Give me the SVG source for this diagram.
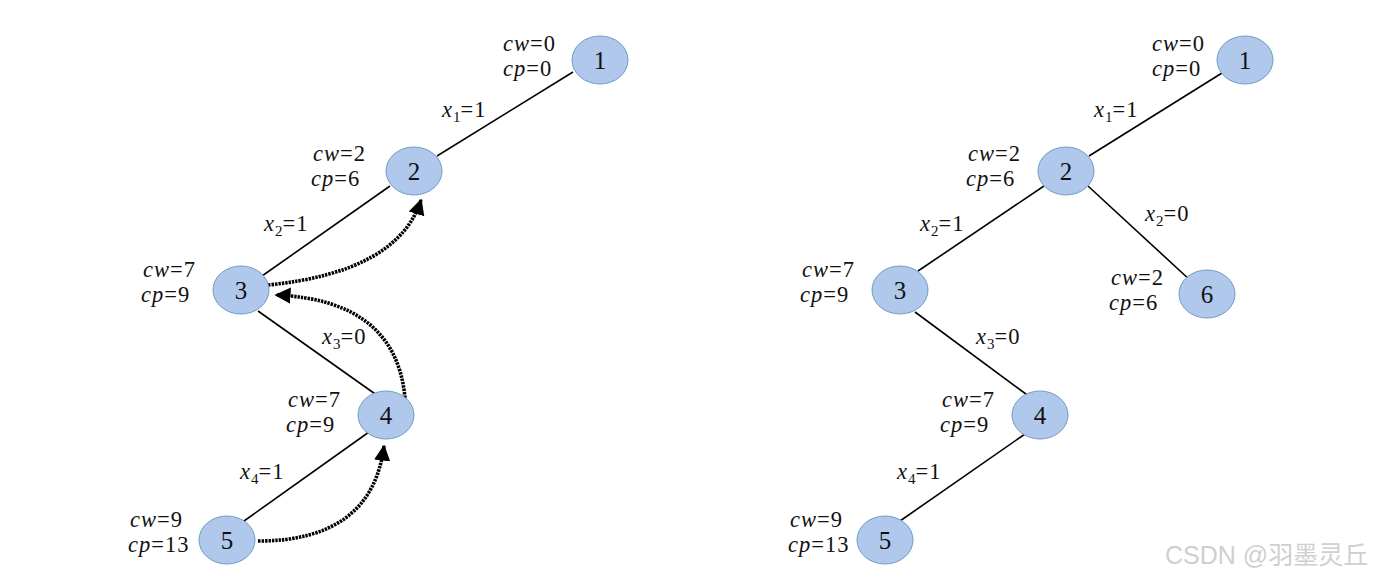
<svg xmlns="http://www.w3.org/2000/svg" width="1377" height="580" viewBox="0 0 1377 580">
<style>
.n{fill:#b0c8ec;stroke:#6f9dc0;stroke-width:1}
.t{font-family:"Liberation Serif",serif;font-size:22.5px;letter-spacing:1px;fill:#111}
.num{font-family:"Liberation Serif",serif;font-size:25px;fill:#111;text-anchor:middle}
.i{font-style:italic}
.s{font-size:15px;letter-spacing:0}
.e{stroke:#000;stroke-width:1.6;fill:none}
.d{stroke:#000;stroke-width:3.6;fill:none;stroke-dasharray:2.4 1}
.wm{font-family:"Liberation Sans","Noto Sans CJK SC",sans-serif;font-size:25px;fill:#cfcfcf}
</style>
<defs>
<marker id="ah" viewBox="0 0 10 10" refX="9" refY="5" markerWidth="4.5" markerHeight="4.5" orient="auto" markerUnits="strokeWidth">
<path d="M0,0 L10,5 L0,10 z" fill="#000"/>
</marker>
</defs>
<rect width="1377" height="580" fill="#fff"/>
<g id="connectors">
<line class="e" x1="573" y1="72" x2="437" y2="156"/>
<line class="e" x1="390" y1="186" x2="262" y2="276"/>
<line class="e" x1="258" y1="311" x2="378" y2="396"/>
<line class="e" x1="369" y1="432" x2="244" y2="521"/>
<path class="d" d="M268,285 Q398,272 421,200" marker-end="url(#ah)"/>
<path class="d" d="M405,398 Q396,300 276,295" marker-end="url(#ah)"/>
<path class="d" d="M258,541 Q372,541 384,446" marker-end="url(#ah)"/>
<line class="e" x1="1222" y1="73" x2="1089" y2="156"/>
<line class="e" x1="1044" y1="186" x2="918" y2="271"/>
<line class="e" x1="1088" y1="186" x2="1191" y2="281"/>
<line class="e" x1="915" y1="312" x2="1030" y2="397"/>
<line class="e" x1="1025" y1="434" x2="900" y2="521"/>
</g>
<g id="edge-labels" class="t">
<text x="442" y="117"><tspan class="i">x</tspan><tspan class="s" dy="5">1</tspan><tspan dy="-5">=1</tspan></text>
<text x="264" y="231"><tspan class="i">x</tspan><tspan class="s" dy="5">2</tspan><tspan dy="-5">=1</tspan></text>
<text x="322" y="344"><tspan class="i">x</tspan><tspan class="s" dy="5">3</tspan><tspan dy="-5">=0</tspan></text>
<text x="240" y="479"><tspan class="i">x</tspan><tspan class="s" dy="5">4</tspan><tspan dy="-5">=1</tspan></text>
<text x="1094" y="117"><tspan class="i">x</tspan><tspan class="s" dy="5">1</tspan><tspan dy="-5">=1</tspan></text>
<text x="920" y="231"><tspan class="i">x</tspan><tspan class="s" dy="5">2</tspan><tspan dy="-5">=1</tspan></text>
<text x="1145" y="221"><tspan class="i">x</tspan><tspan class="s" dy="5">2</tspan><tspan dy="-5">=0</tspan></text>
<text x="976" y="344"><tspan class="i">x</tspan><tspan class="s" dy="5">3</tspan><tspan dy="-5">=0</tspan></text>
<text x="897" y="479"><tspan class="i">x</tspan><tspan class="s" dy="5">4</tspan><tspan dy="-5">=1</tspan></text>
</g>
<g id="L1"><ellipse class="n" cx="600" cy="60" rx="28" ry="24"/><text class="num" x="600" y="69">1</text>
<text class="t" x="503" y="51"><tspan class="i">cw</tspan>=0</text><text class="t" x="503" y="76"><tspan class="i">cp</tspan>=0</text></g>
<g id="L2"><ellipse class="n" cx="414" cy="171" rx="28" ry="24"/><text class="num" x="414" y="180">2</text>
<text class="t" x="313" y="161"><tspan class="i">cw</tspan>=2</text><text class="t" x="311" y="186"><tspan class="i">cp</tspan>=6</text></g>
<g id="L3"><ellipse class="n" cx="241" cy="290" rx="28" ry="24"/><text class="num" x="241" y="299">3</text>
<text class="t" x="143" y="277"><tspan class="i">cw</tspan>=7</text><text class="t" x="141" y="302"><tspan class="i">cp</tspan>=9</text></g>
<g id="L4"><ellipse class="n" cx="386" cy="415" rx="28" ry="24"/><text class="num" x="386" y="424">4</text>
<text class="t" x="288" y="407"><tspan class="i">cw</tspan>=7</text><text class="t" x="286" y="432"><tspan class="i">cp</tspan>=9</text></g>
<g id="L5"><ellipse class="n" cx="227" cy="540" rx="28" ry="24"/><text class="num" x="227" y="549">5</text>
<text class="t" x="130" y="527"><tspan class="i">cw</tspan>=9</text><text class="t" x="128" y="552"><tspan class="i">cp</tspan>=13</text></g>
<g id="R1"><ellipse class="n" cx="1245" cy="60" rx="28" ry="24"/><text class="num" x="1245" y="69">1</text>
<text class="t" x="1152" y="51"><tspan class="i">cw</tspan>=0</text><text class="t" x="1152" y="76"><tspan class="i">cp</tspan>=0</text></g>
<g id="R2"><ellipse class="n" cx="1066" cy="171" rx="28" ry="24"/><text class="num" x="1066" y="180">2</text>
<text class="t" x="968" y="161"><tspan class="i">cw</tspan>=2</text><text class="t" x="966" y="186"><tspan class="i">cp</tspan>=6</text></g>
<g id="R3"><ellipse class="n" cx="900" cy="290" rx="28" ry="24"/><text class="num" x="900" y="299">3</text>
<text class="t" x="802" y="277"><tspan class="i">cw</tspan>=7</text><text class="t" x="800" y="302"><tspan class="i">cp</tspan>=9</text></g>
<g id="R6"><ellipse class="n" cx="1207" cy="294" rx="28" ry="24"/><text class="num" x="1207" y="303">6</text>
<text class="t" x="1111" y="285"><tspan class="i">cw</tspan>=2</text><text class="t" x="1109" y="310"><tspan class="i">cp</tspan>=6</text></g>
<g id="R4"><ellipse class="n" cx="1040" cy="415" rx="28" ry="24"/><text class="num" x="1040" y="424">4</text>
<text class="t" x="942" y="407"><tspan class="i">cw</tspan>=7</text><text class="t" x="940" y="432"><tspan class="i">cp</tspan>=9</text></g>
<g id="R5"><ellipse class="n" cx="885" cy="540" rx="28" ry="24"/><text class="num" x="885" y="549">5</text>
<text class="t" x="790" y="527"><tspan class="i">cw</tspan>=9</text><text class="t" x="788" y="552"><tspan class="i">cp</tspan>=13</text></g>
<text class="wm" x="1165" y="564">CSDN @羽墨灵丘</text>
</svg>
